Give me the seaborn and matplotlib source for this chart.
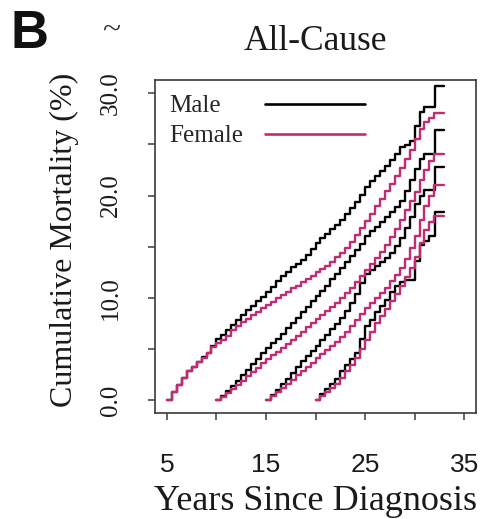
import matplotlib
matplotlib.use("Agg")
import matplotlib.pyplot as plt
from matplotlib.lines import Line2D
import pandas as pd
import seaborn as sns

# ---------------- data ----------------
t5 = [5.0, 5.5, 6.0, 6.5, 7.0, 7.5, 8.0, 8.5, 9.0, 9.5, 10.0, 10.5, 11.0, 11.5, 12.0, 12.5,
      13.0, 13.5, 14.0, 14.5, 15.0, 15.5, 16.0, 16.5, 17.0, 17.5, 18.0, 18.5, 19.0, 19.5,
      20.0, 20.5, 21.0, 21.5, 22.0, 22.5, 23.0, 23.5, 24.0, 24.5, 25.0, 25.5, 26.0, 26.5,
      27.0, 27.5, 28.0, 28.5, 29.0, 29.5, 30.0, 30.5, 31.0, 31.5, 32.0, 32.1, 33.0]
male_5 = [0, 0.8, 1.5, 2.2, 2.8, 3.2, 3.7, 4.2, 4.6, 5.3, 6.0, 6.4, 6.8, 7.3, 7.8, 8.3,
          8.8, 9.2, 9.7, 10.1, 10.6, 11.1, 11.6, 12.1, 12.5, 13.0, 13.3, 13.7, 14.2, 14.8,
          15.4, 15.8, 16.2, 16.7, 17.1, 17.6, 18.2, 18.8, 19.4, 20.1, 20.8, 21.4, 21.9, 22.4,
          22.9, 23.5, 24.1, 24.7, 24.9, 25.3, 26.8, 28.2, 28.7, 28.7, 28.7, 30.7, 30.7]
female_5 = [0, 0.8, 1.5, 2.2, 2.8, 3.2, 3.7, 4.1, 4.6, 5.2, 5.6, 5.9, 6.3, 6.8, 7.2, 7.6,
            7.9, 8.3, 8.6, 9.0, 9.3, 9.6, 10.0, 10.3, 10.6, 11.0, 11.2, 11.5, 11.8, 12.1,
            12.5, 12.8, 13.1, 13.5, 14.0, 14.4, 14.9, 15.5, 16.1, 16.8, 17.5, 18.2, 19.0, 19.7,
            20.4, 21.1, 21.9, 22.7, 23.6, 24.5, 25.5, 26.5, 27.2, 27.6, 28.1, 28.1, 28.1]

t10 = [10.0, 10.5, 11.0, 11.5, 12.0, 12.5, 13.0, 13.5, 14.0, 14.5, 15.0, 15.5, 16.0, 16.5,
       17.0, 17.5, 18.0, 18.5, 19.0, 19.5, 20.0, 20.5, 21.0, 21.5, 22.0, 22.5, 23.0, 23.5,
       24.0, 24.5, 25.0, 25.5, 26.0, 26.5, 27.0, 27.5, 28.0, 28.5, 29.0, 29.5, 30.0, 30.5,
       31.0, 31.5, 32.0, 32.1, 33.0]
male_10 = [0, 0.4, 0.9, 1.4, 1.9, 2.4, 2.9, 3.5, 4.0, 4.6, 5.1, 5.6, 6.0, 6.5, 7.0, 7.5,
           8.0, 8.6, 9.1, 9.7, 10.2, 10.7, 11.2, 11.8, 12.3, 12.9, 13.5, 14.1, 14.7, 15.3,
           16.0, 16.5, 16.9, 17.4, 17.9, 18.4, 18.9, 19.5, 20.4, 21.5, 22.6, 23.6, 24.1, 24.1,
           24.1, 26.4, 26.4]
female_10 = [0, 0.3, 0.7, 1.1, 1.5, 1.9, 2.3, 2.7, 3.1, 3.6, 4.0, 4.4, 4.7, 5.1, 5.5, 5.9,
             6.3, 6.7, 7.1, 7.5, 7.9, 8.3, 8.7, 9.1, 9.5, 10.0, 10.5, 11.0, 11.5, 12.1,
             12.7, 13.3, 13.9, 14.5, 15.2, 15.9, 16.7, 17.6, 18.6, 19.5, 20.3, 21.5, 22.5, 23.4,
             24.1, 24.1, 24.1]

t15 = [15.0, 15.5, 16.0, 16.5, 17.0, 17.5, 18.0, 18.5, 19.0, 19.5, 20.0, 20.5, 21.0, 21.5,
       22.0, 22.5, 23.0, 23.5, 24.0, 24.5, 25.0, 25.5, 26.0, 26.5, 27.0, 27.5, 28.0, 28.5,
       29.0, 29.5, 30.0, 30.5, 31.0, 31.5, 32.0, 32.1, 33.0]
male_15 = [0, 0.5, 1.0, 1.6, 2.1, 2.6, 3.2, 3.8, 4.3, 4.8, 5.3, 5.9, 6.4, 6.9, 7.4, 8.0,
           8.7, 9.5, 10.4, 11.4, 12.3, 12.7, 13.1, 13.5, 13.9, 14.4, 15.1, 15.8, 16.8, 17.9,
           19.2, 20.0, 20.5, 20.5, 20.5, 22.8, 22.8]
female_15 = [0, 0.4, 0.8, 1.2, 1.6, 2.0, 2.4, 2.8, 3.2, 3.6, 4.1, 4.5, 4.9, 5.3, 5.7, 6.2,
             6.7, 7.2, 7.8, 8.4, 9.0, 9.5, 10.0, 10.5, 11.0, 11.6, 12.2, 12.9, 13.8, 14.9,
             16.0, 17.6, 19.0, 20.0, 21.0, 21.0, 21.0]

t20 = [20.0, 20.5, 21.0, 21.5, 22.0, 22.5, 23.0, 23.5, 24.0, 24.5, 25.0, 25.5, 26.0, 26.5,
       27.0, 27.5, 28.0, 28.5, 29.0, 29.5, 30.0, 30.5, 31.0, 31.5, 32.0, 32.1, 33.0]
male_20 = [0, 0.6, 1.1, 1.6, 2.1, 2.8, 3.4, 4.0, 4.6, 6.0, 7.2, 7.8, 8.6, 9.2, 9.8, 10.6,
           11.2, 11.5, 11.7, 11.7, 13.6, 15.2, 15.6, 16.0, 16.0, 18.4, 18.4]
female_20 = [0, 0.4, 0.8, 1.2, 1.6, 2.2, 2.8, 3.4, 4.1, 5.0, 5.9, 6.7, 7.5, 8.2, 8.9, 9.7,
             10.4, 11.2, 12.0, 12.9, 14.0, 15.4, 16.6, 17.4, 18.0, 18.0, 18.0]

sexes = ["Male", "Female"]
x_ticks = [5, 10, 15, 20, 25, 30, 35]
x_tick_labels = ["5", "", "15", "", "25", "", "35"]
y_ticks = [0, 5, 10, 15, 20, 25, 30]
y_tick_labels = ["0.0", "", "10.0", "", "20.0", "", "30.0"]
title = "All-Cause"
x_label = "Years Since Diagnosis"
y_label = "Cumulative Mortality (%)"
panel_label = "B"

# ---------------- build long table ----------------
curves = [(5, t5, male_5, female_5), (10, t10, male_10, female_10),
          (15, t15, male_15, female_15), (20, t20, male_20, female_20)]
rows = []
for start, t, m, f in curves:
    for ti, yi in zip(t, m):
        rows.append((ti, yi, "Male", start))
    for ti, yi in zip(t, f):
        rows.append((ti, yi, "Female", start))
df = pd.DataFrame(rows, columns=["years", "mortality", "sex", "start"])

# ---------------- style ----------------
sns.set_style("ticks")
plt.rcParams["font.family"] = ["Liberation Serif", "DejaVu Serif"]
SERIF = "Liberation Serif"
SANS = "Liberation Sans"
MALE_C = "#000000"
FEMALE_C = "#C42A72"
FRAME_C = "#3a3a3a"

W, H = 484, 519
fig = plt.figure(figsize=(W / 100, H / 100), dpi=100)
L, R, T, B = 155, 476, 80, 413
ax = fig.add_axes([L / W, (H - B) / H, (R - L) / W, (B - T) / H])

sns.lineplot(data=df, x="years", y="mortality", hue="sex", units="start",
             estimator=None, hue_order=sexes,
             palette={"Male": MALE_C, "Female": FEMALE_C},
             drawstyle="steps-post", linewidth=1.7, legend=False, ax=ax)

ax.set_xlim(3.8, 36.2)
ax.set_ylim(-1.27, 31.3)
ax.set_xlabel("")
ax.set_ylabel("")

for s in ax.spines.values():
    s.set_visible(True)
    s.set_color(FRAME_C)
    s.set_linewidth(1.2)

ax.set_xticks(x_ticks)
ax.set_xticklabels(x_tick_labels, fontfamily=SANS, fontsize=19)
ax.set_yticks(y_ticks)
ax.set_yticklabels(y_tick_labels, fontfamily=SERIF, fontsize=18, rotation=90, va="center")
ax.tick_params(axis="both", length=5, width=1.1, color=FRAME_C, labelcolor="#1a1a1a")
ax.tick_params(axis="x", pad=24)
ax.tick_params(axis="y", pad=19)

# legend: text column and line column
h_m = Line2D([], [], color=MALE_C, lw=1.9)
h_f = Line2D([], [], color=FEMALE_C, lw=1.9)
blank = Line2D([], [], color="none")
leg1 = ax.legend([blank, blank], sexes, handlelength=0, handletextpad=0,
                 frameon=False, loc="upper left", bbox_to_anchor=(0.043, 0.955),
                 borderpad=0, borderaxespad=0, labelspacing=0.3,
                 prop={"family": SERIF, "size": 18})
ax.add_artist(leg1)
ax.legend([h_m, h_f], ["", ""], handlelength=4.0, handletextpad=0,
          frameon=False, loc="upper left", bbox_to_anchor=(0.343, 0.955),
          borderpad=0, borderaxespad=0, labelspacing=0.3,
          prop={"family": SERIF, "size": 18})

# titles and labels
fig.text(315 / W, 1 - 50 / H, title, ha="center", va="baseline",
         fontfamily=SERIF, fontsize=25.5, color="#1a1a1a")
fig.text(315 / W, 1 - 510 / H, x_label, ha="center", va="baseline",
         fontfamily=SERIF, fontsize=26, color="#1a1a1a")
fig.text(64 / W, 1 - 240 / H, y_label, ha="center", va="center", rotation=90,
         fontfamily=SERIF, fontsize=23, color="#1a1a1a")
fig.text(10 / W, 1 - 48 / H, panel_label, ha="left", va="baseline",
         fontfamily=SANS, fontweight="bold", fontsize=38, color="#111111")
fig.text(111 / W, 1 - 31 / H, "~", ha="center", va="center",
         fontfamily=SERIF, fontsize=24, color="#333333")

fig.savefig("out.png", dpi=100)
